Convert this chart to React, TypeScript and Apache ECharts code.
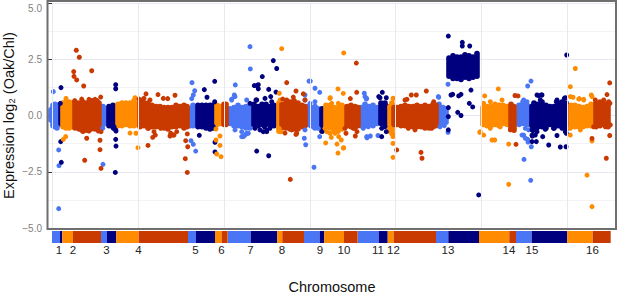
import React, { useEffect, useRef } from "react";
import * as echarts from "echarts";

const FONT = "Liberation Sans, Arial, sans-serif";
const BLUE = "#4a76f5";
const NAVY = "#00007f";
const ORANGE = "#ff8c00";
const RED = "#c93a00";

const yTicks = ["\u22125.0", "\u22122.5", "0.0", "2.5", "5.0"];
const gridPositions = [0, 86, 172, 258, 343, 429, 515];

// Chromosome arms: [start, end] along the genome
const stripBlue = [[0, 8], [49, 55], [136, 144], [176, 198.7], [252, 267.7], [306, 326.7], [384, 396.3], [464, 479.7]];
const stripNavy = [[8, 10.3], [55, 64.3], [144, 163], [198.7, 225.3], [267.7, 272.3], [326.7, 335.7], [396.3, 427], [479.7, 515.3]];
const stripOrange = [[10.3, 21], [64.3, 86.7], [163, 169.7], [225.3, 230.3], [272.3, 292], [335.7, 341.7], [427, 457.3], [515.3, 540.7]];
const stripRed = [[21, 49], [86.7, 136], [169.7, 175.7], [230.3, 252], [292, 305.7], [341.7, 384], [457.3, 464], [540.7, 558.7]];

const chromosomeLabels = ["1", "2", "3", "4", "5", "6", "7", "8", "9", "10", "11", "12", "13", "14", "15", "16"];
const chromosomeLabelPos = [7, 21, 54.5, 86.5, 143.5, 169.5, 198.5, 230, 268, 292, 326, 341.5, 396, 457, 480, 540.5];

// Dense expression cloud: [position, low, high]
const bandBlue = [
  [-1, -0.2, 0.25], [1, -0.45, 0.45], [3, -0.5, 0.5], [5, -0.55, 0.45], [7, -0.4, 0.35],
  [51, -0.4, 0.4], [53, -0.35, 0.3],
  [138, -0.45, 0.3], [141, -0.45, 0.45], [144, -0.4, 0.35],
  [178, -0.35, 0.3], [182, -0.45, 0.35], [186, -0.45, 0.45], [190, -0.5, 0.35], [194, -0.55, 0.4], [198, -0.55, 0.45],
  [255, -0.4, 0.4], [259, -0.45, 0.35], [263, -0.55, 0.4], [266, -0.5, 0.3],
  [309, -0.45, 0.35], [313, -0.45, 0.5], [317, -0.4, 0.4], [321, -0.45, 0.45], [325, -0.35, 0.35],
  [387, -0.35, 0.5], [391, -0.35, 0.35], [394, -0.3, 0.3],
  [467, -0.4, 0.45], [471, -0.35, 0.6], [475, -0.4, 0.45], [478, -0.4, 0.4],
];
const bandNavy = [
  [9, -0.35, 0.4],
  [57, -0.45, 0.4], [61, -0.5, 0.45], [64, -0.4, 0.4],
  [146, -0.5, 0.45], [150, -0.5, 0.45], [154, -0.55, 0.45], [158, -0.6, 0.45], [161, -0.55, 0.45],
  [202, -0.4, 0.5], [206, -0.45, 0.4], [210, -0.4, 0.5], [214, -0.4, 0.5], [218, -0.4, 0.4], [222, -0.45, 0.45],
  [270, -0.7, 0.3],
  [329, -0.35, 0.55], [333, -0.35, 0.55], [335, -0.4, 0.4],
  [397, 1.75, 2.55], [401, 1.65, 2.65], [405, 1.65, 2.6], [409, 1.6, 2.6], [413, 1.7, 2.7], [417, 1.65, 2.65], [421, 1.7, 2.6], [425, 1.75, 2.75],
  [480, -0.45, 0.4], [482, -0.5, 0.55], [486, -0.5, 0.5], [490, -0.5, 0.6], [494, -0.55, 0.45], [498, -0.4, 0.4], [502, -0.55, 0.4], [506, -0.45, 0.55], [510, -0.5, 0.6], [514, -0.6, 0.55],
];
const bandOrange = [
  [11, -0.5, 0.55], [14, -0.55, 0.6], [17, -0.55, 0.6], [20, -0.5, 0.55],
  [66, -0.45, 0.5], [70, -0.45, 0.55], [74, -0.4, 0.55], [78, -0.45, 0.55], [82, -0.45, 0.65], [85, -0.4, 0.5],
  [165, -0.4, 0.45], [168, -0.35, 0.4],
  [227, -0.7, 0.55],
  [274, -0.5, 0.45], [278, -0.55, 0.45], [282, -0.7, 0.35], [286, -0.7, 0.35], [290, -0.6, 0.45],
  [338, -0.7, 0.4], [340, -0.8, 0.55],
  [431, -0.4, 0.35], [435, -0.45, 0.4], [439, -0.45, 0.4], [443, -0.4, 0.5], [447, -0.45, 0.45], [451, -0.35, 0.45], [455, -0.4, 0.4],
  [519, -0.5, 0.45], [523, -0.5, 0.45], [527, -0.5, 0.4], [531, -0.5, 0.35], [535, -0.45, 0.4], [539, -0.45, 0.5], [541, -0.45, 0.45],
];
const bandRed = [
  [23, -0.55, 0.6], [27, -0.6, 0.55], [31, -0.7, 0.6], [35, -0.65, 0.55], [39, -0.6, 0.6], [43, -0.6, 0.55], [47, -0.5, 0.55],
  [88, -0.5, 0.6], [92, -0.45, 0.55], [96, -0.55, 0.55], [100, -0.5, 0.45], [104, -0.5, 0.4], [108, -0.5, 0.4], [112, -0.55, 0.35], [116, -0.6, 0.35], [120, -0.5, 0.35], [124, -0.5, 0.45], [128, -0.45, 0.4], [132, -0.55, 0.45], [135, -0.5, 0.4],
  [172, -0.4, 0.5], [174, -0.4, 0.5],
  [230, -0.55, 0.5], [234, -0.55, 0.55], [238, -0.6, 0.6], [242, -0.6, 0.65], [246, -0.6, 0.55], [250, -0.5, 0.45], [253, -0.45, 0.4],
  [295, -0.45, 0.4], [299, -0.5, 0.45], [303, -0.55, 0.4], [306, -0.45, 0.35],
  [342, -0.4, 0.35], [345, -0.4, 0.35], [349, -0.45, 0.4], [353, -0.45, 0.45], [357, -0.5, 0.4], [361, -0.5, 0.4], [365, -0.5, 0.45], [369, -0.5, 0.4], [373, -0.55, 0.45], [377, -0.55, 0.4], [381, -0.5, 0.5], [384, -0.45, 0.45],
  [459, -0.6, 0.5], [462, -0.65, 0.4],
  [544, -0.5, 0.55], [548, -0.45, 0.6], [552, -0.4, 0.5], [556, -0.5, 0.55],
];

// Individual genes outside the cloud: [position, log2 ratio]
const pointsBlue = [
  [1.3, 1.06], [140, 1.46], [142.7, 1.1], [141.3, 0.91], [139.7, 0.75], [50.7, -0.57], [183.3, 1.36], [182.3, 0.91], [179.7, 0.73],
  [198, 3.06], [198.3, 2.07], [189.7, -0.94], [196.3, -0.79], [193, -0.87], [252.3, -1.01], [253.7, -1.3], [257, 1.53], [253, 0.91],
  [6.7, -1.53], [7, -2.23], [51, -2.17], [6.7, -4.14], [141.3, -1.28], [143.7, -1.58], [139, -1.12],
  [258.3, 1.53], [263, 1.21], [267.7, 1.03], [267.7, -0.94], [312.3, 0.99], [314.3, 0.73], [315, -0.99], [318.3, -0.91], [326, -0.89],
  [386.7, 0.81], [396, 1.39], [396, -0.75], [475.7, 1.31], [479, 1.53], [471.7, -0.87], [475.7, -1.06], [476, -1.18], [479.3, -1.39],
  [472, -1.95], [478.7, -2.88], [262, -2.3],
  [179.7, 0.69], [183, 0.84], [194.7, 0.69], [189.7, -0.72], [191.3, -0.94], [194.7, -0.79], [183, -0.64],
  [253, 0.69], [258, 0.54], [263, 0.61], [253, -0.64], [261.3, -0.5], [266.3, -0.57],
  [313, 0.84], [314.7, 0.76], [311.3, -0.57], [316.3, -0.5], [314.7, -0.94], [386.3, 0.84], [388, -0.5], [392.3, -0.45],
  [471.7, 0.69], [475, 0.61], [473.3, -0.57], [476.7, -0.64], [470, -0.87], [473.3, -1.01],
];
const pointsNavy = [
  [9, 1.24], [8.3, 0.54], [8.7, -1.16], [63.7, 1.37], [63.7, 1.19], [61.3, -0.57], [64, -0.69], [63.7, -1.06], [64, -1.36],
  [162.7, 1.52], [152.3, 1.15], [155, 0.81], [162.7, 0.61], [147.3, -0.88], [163, -1.19], [210.3, 1.73], [221.3, 2.44], [224.7, 2.09],
  [202.3, 1.33], [204.7, 1.33], [206.3, 1.37], [206.3, 1.19], [216.7, 1.16], [224, 1.04], [204, 0.69], [218.7, 0.84], [211.3, -0.72], [214.7, -0.72],
  [9.3, -2.08], [63.3, -2.53], [163, -1.62], [204.7, -1.58], [216.7, -1.79],
  [396.3, 3.53], [410.3, 3.25], [410.3, 3.09], [417.7, 3.09], [419, 1.13], [399, 0.91], [400.7, 0.94], [406.7, 0.87], [409, 0.94],
  [417.3, 0.54], [420.7, 0.38], [396.3, 0.35], [396.3, -0.05], [405.7, 0.14], [409, 0], [396.3, -0.64],
  [330.3, 1.03], [334.3, 0.79], [326.7, 0.84], [329.7, -0.94], [334.3, -0.72],
  [514.7, 2.69], [489.3, 0.91], [486.7, 0.88], [504.3, 0.61], [512.3, 0.76], [493.3, -0.61], [481, -0.67], [485, -0.72], [480.3, -0.91],
  [490.7, -0.94], [505, -0.89], [514.3, -0.79], [496.7, -1.31], [508.3, -1.4], [514, -1.39], [480, -1.16], [484.3, -1.16], [426.7, -3.53],
  [62, -0.5], [63.7, -0.64], [154.7, -0.5], [158, -0.57], [161.3, -0.5], [212.3, -0.5], [214.7, -0.64], [218, -0.57], [203, -0.57], [208, -0.64],
  [204.7, 0.69], [213, 0.76], [219.7, 0.61], [198, 0.54], [328, 0.79], [329.7, -0.57], [333, -0.5],
  [485, 0.91], [490, 0.91], [488.3, 0.69], [505, 0.69], [513.3, 0.79], [480, -0.64], [485, -0.57], [483.3, -0.87], [480, -0.87], [493.3, -0.57], [501.7, -0.57], [510, -0.57], [513.3, -0.72],
];
const pointsOrange = [
  [14, 0.76], [13.7, -0.94], [11.3, -1.06], [83, 0.79], [78, -0.78], [84, -0.79], [86, -1.43], [168, -0.91], [164, -0.6], [164, -1.09],
  [168, -1.33], [229.7, 2.97], [227.3, 0.99], [164.7, -1.71], [169, -1.83],
  [291.7, 2.78], [286, 1.18], [291.3, 0.98], [278.3, 0.79], [279.7, 0.54], [279.3, -0.97], [273.7, -1.22], [285, -1.27], [289.3, -1.09],
  [286.7, -0.94], [291.7, -1.43], [341, 0.76], [341, -0.94], [341, -1.24], [432.7, 0.87], [446.3, 1.18], [427.7, -0.75], [431.7, -0.87],
  [440, -1.09], [442.7, -1.09], [456.7, -1.27], [523.3, 2.09], [518.3, 1.28], [518.3, 0.84], [521, 0.81], [527.3, 0.75], [531.7, 0.72],
  [539.3, 0.91], [518.3, -0.87], [540, -1.13], [286, -1.67], [291.3, -1.45], [341, -1.86], [535, -2.65], [540, -4.05], [456.7, -3.06],
  [227, -0.57], [229, -0.72], [228, 0.69], [278, 0.76], [278, -0.79], [273, -0.57], [274.7, -0.72], [286.3, 0.54], [283, -0.79], [289.7, -0.57],
  [341.3, 0.76], [341.3, -0.87], [338, -0.57], [431.7, 0.54], [438.3, 0.61], [450, 0.69], [428.3, -0.72], [438.3, -0.57], [448.3, -0.5],
  [526.7, 0.73], [531.7, 0.69], [540, 0.84], [518.3, -0.57], [528.3, -0.64],
];
const pointsRed = [
  [24.3, 2.9], [27.3, 2.59], [21.7, 1.95], [22, 1.74], [24.7, 1.58], [39.7, 1.99], [31.7, 1.31], [29.7, 0.73], [48.7, 0.82], [37, 0.72], [43, 0.72],
  [34.7, -1.01], [48, -1.1], [48, -1.52], [46.3, -0.69], [49, -0.72], [94, 0.96], [106, 0.93], [111.3, 0.76], [115.7, 0.75], [123, 0.9], [98, 0.69], [91.3, 0.73],
  [96, -1.33], [100.7, -0.97], [103.3, -0.87], [96.3, -0.57], [118, -0.91], [121.3, -0.87], [124.7, -0.72], [135.3, -0.82], [133.7, -1.12], [135.7, -1.39],
  [234.7, 1.46], [230.7, 0.73], [244, 1.09], [241.3, 0.82], [251.3, 0.96], [233, -0.78], [244, -0.84],
  [32.7, -1.99], [49, -2.35], [133.3, -1.92], [135.3, -2.53], [238.3, -2.84],
  [304.3, 2.33], [304.7, 1.03], [298.3, 0.75], [294, -0.79], [303.3, -0.91], [305, -0.72], [359.3, 0.91], [364.3, 0.91], [374.3, 1.09], [355, 0.72], [381.7, 0.61],
  [463, 0.89], [466, 0.87], [464, -1.28], [557.7, 1.45], [555, 0.93], [558, 0.54], [557.7, -0.89], [540, -1.02],
  [344.7, -1.53], [369, -1.64], [370, -1.9], [554.3, -1.9],
  [22.7, 0.66], [40.3, 0.67], [45.3, 0.66], [29.3, -0.64], [37, -0.69], [45.3, -0.6], [87, 0.73], [92, 0.76],
  [118.7, -0.79], [122, -0.87], [108.7, -0.57], [102, -0.72], [239.7, -0.64], [244.7, -0.79], [234.7, 0.69], [253, 0.69],
  [293, -0.57], [301.3, -0.57], [353, 0.69], [356.3, -0.57], [363, -0.64], [373, -0.5], [379.7, -0.57],
  [458.3, -0.64], [543.3, 0.69], [551.7, 0.69], [556.7, 0.61], [541.7, -0.5], [553.3, -0.5], [558.3, -0.42],
];

const POS_MIN = -5;
const POS_MAX = 565;

function bandSeries(data: number[][], color: string) {
  return {
    type: "custom",
    xAxisIndex: 0,
    yAxisIndex: 0,
    silent: true,
    z: 3,
    data,
    encode: { x: 0, y: [1, 2] },
    renderItem: (_p: any, api: any) => {
      const a = api.coord([api.value(0), api.value(1)]);
      const b = api.coord([api.value(0), api.value(2)]);
      return {
        type: "line",
        shape: { x1: a[0], y1: a[1], x2: b[0], y2: b[1] },
        style: { stroke: color, lineWidth: 5.6, lineCap: "round", fill: null },
      };
    },
  };
}

function pointSeries(data: number[][], color: string) {
  return {
    type: "scatter",
    xAxisIndex: 0,
    yAxisIndex: 0,
    silent: true,
    z: 3,
    symbolSize: 5,
    itemStyle: { color, opacity: 1 },
    data,
  };
}

function stripSeries(data: number[][], color: string) {
  return {
    type: "custom",
    xAxisIndex: 1,
    yAxisIndex: 1,
    silent: true,
    data,
    encode: { x: [0, 1] },
    renderItem: (_p: any, api: any) => {
      const a = api.coord([api.value(0), 1]);
      const b = api.coord([api.value(1), 0]);
      return {
        type: "rect",
        shape: { x: a[0], y: a[1], width: b[0] - a[0], height: b[1] - a[1] },
        style: { fill: color },
      };
    },
  };
}

export default function App() {
  const ref = useRef<HTMLDivElement>(null);
  useEffect(() => {
    const chart = echarts.init(ref.current!, undefined, { renderer: "svg" });
    chart.setOption({
      animation: false,
      backgroundColor: "#ffffff",
      textStyle: { fontFamily: FONT },
      grid: [
        { left: 47, top: 3, width: 570, height: 225, outerBoundsMode: "none" },
        { left: 47, top: 231, width: 570, height: 12, outerBoundsMode: "none" },
      ],
      xAxis: [
        {
          type: "value", gridIndex: 0, min: POS_MIN, max: POS_MAX,
          axisLine: { show: false }, axisTick: { show: false }, axisLabel: { show: false }, splitLine: { show: false },
        },
        {
          type: "value", gridIndex: 1, min: POS_MIN, max: POS_MAX,
          axisLine: { show: false }, axisTick: { show: false }, axisLabel: { show: false }, splitLine: { show: false },
          name: "Chromosome", nameLocation: "middle", nameGap: 36,
          nameTextStyle: { fontFamily: FONT, fontSize: 14.5, color: "#111111" },
        },
      ],
      yAxis: [
        {
          type: "value", gridIndex: 0, min: -5, max: 5, interval: 2.5,
          name: "Expression log\u2082 (Oak/Chl)", nameLocation: "middle", nameGap: 31, nameMoveOverlap: false,
          nameTextStyle: { fontFamily: FONT, fontSize: 14.5, color: "#111111" },
          axisLine: { show: false },
          axisTick: { show: true, length: 4, lineStyle: { color: "#333333", width: 1 } },
          axisLabel: {
            fontFamily: FONT, fontSize: 10, color: "#7f7f7f", margin: 5, verticalAlignMaxLabel: "top",
            formatter: (v: number) => yTicks[Math.round((v + 5) / 2.5)],
          },
          splitLine: { show: true, lineStyle: { color: "#e8e8f0", width: 1 } },
          minorTick: { show: false, splitNumber: 2 },
          minorSplitLine: { show: true, lineStyle: { color: "#f3f3f6", width: 1 } },
        },
        { type: "value", gridIndex: 1, min: 0, max: 1, show: false },
      ],
      series: [
        {
          type: "scatter", xAxisIndex: 0, yAxisIndex: 0, data: [], silent: true, z: 1,
          markLine: {
            silent: true, symbol: "none", label: { show: false },
            lineStyle: { color: "#e8e8f0", width: 1, type: "solid" },
            data: gridPositions.map((x) => ({ xAxis: x })),
          },
        },
        bandSeries(bandBlue, BLUE),
        bandSeries(bandNavy, NAVY),
        bandSeries(bandOrange, ORANGE),
        bandSeries(bandRed, RED),
        pointSeries(pointsBlue, BLUE),
        pointSeries(pointsNavy, NAVY),
        pointSeries(pointsOrange, ORANGE),
        pointSeries(pointsRed, RED),
        stripSeries(stripBlue, BLUE),
        stripSeries(stripNavy, NAVY),
        stripSeries(stripOrange, ORANGE),
        stripSeries(stripRed, RED),
        {
          type: "custom", xAxisIndex: 1, yAxisIndex: 1, silent: true, clip: false,
          data: chromosomeLabelPos.map((p, i) => [p, chromosomeLabels[i]]),
          encode: { x: 0 },
          renderItem: (_p: any, api: any) => {
            const a = api.coord([api.value(0), 0]);
            return {
              type: "text",
              style: {
                x: a[0], y: a[1] + 7, text: String(api.value(1)),
                align: "center", verticalAlign: "middle",
                fontFamily: FONT, fontSize: 11.5, fill: "#222222",
              },
            };
          },
        },
      ],
      graphic: [
        {
          type: "rect", z: 10, silent: true,
          shape: { x: 47.5, y: 1, width: 568.5, height: 228 },
          style: { fill: "none", stroke: "#6f6f6f", lineWidth: 2 },
        },
      ],
    });
    return () => chart.dispose();
  }, []);
  return (
    <div style={{ position: "fixed", left: 0, top: 0, width: 617, height: 293 }}>
      <div ref={ref} style={{ width: 617, height: 293 }} />
    </div>
  );
}
